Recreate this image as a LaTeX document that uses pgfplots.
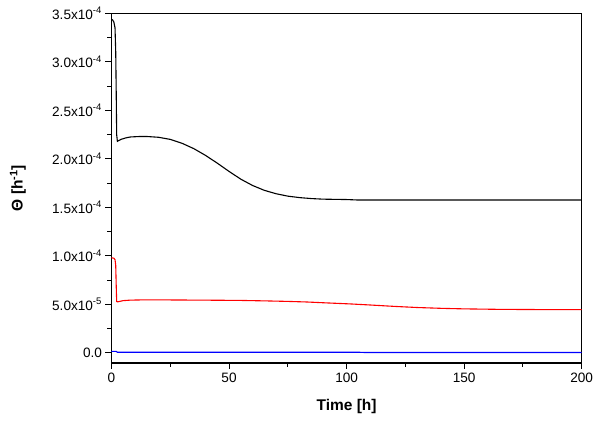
\documentclass[border=0pt]{standalone}
\usepackage{fontspec}
\setmainfont{Liberation Sans}
\usepackage{pgfplots}
\pgfplotsset{compat=1.18}
\begin{document}
\begin{tikzpicture}
\useasboundingbox (-111.5pt,-60pt) rectangle (488.5pt,363pt);
\begin{axis}[
  at={(0pt,0pt)}, anchor=south west,
  scale only axis,
  width=470.2pt, height=349.7pt,
  xmin=0, xmax=200, ymin=-1.05, ymax=35,
  axis line style={line width=1.2pt},
  xtick={0,50,100,150,200},
  minor xtick={25,75,125,175},
  ytick={0,5,10,15,20,25,30,35},
  minor ytick={2.5,7.5,12.5,17.5,22.5,27.5,32.5},
  yticklabels={0.0, 5.0x10\textsuperscript{-5}, 1.0x10\textsuperscript{-4}, 1.5x10\textsuperscript{-4}, 2.0x10\textsuperscript{-4}, 2.5x10\textsuperscript{-4}, 3.0x10\textsuperscript{-4}, 3.5x10\textsuperscript{-4}},
  tick align=outside,
  xtick pos=bottom, ytick pos=left,
  major tick length=6pt, minor tick length=4pt,
  every tick/.style={black, line width=1pt},
  /pgf/number format/assume math mode=true,
  tick label style={font=\fontsize{13.6}{16}\selectfont},
  xlabel={Time [h]},
  ylabel={Θ [h\textsuperscript{-1}]},
  label style={font=\fontsize{15.5}{18}\bfseries},
  xlabel style={at={(axis description cs:0.5,-0.125)}, anchor=center},
  ylabel style={at={(axis description cs:-0.199,0.5)}, anchor=center, rotate=0},
]
\addplot[black, line width=1.1pt] coordinates {
(0,34.4) (0.5,34.3) (1.0,34.1) (1.5,33.5) (1.8,31) (2.0,27) (2.2,22.5) (2.5,21.8)
(4,22.0) (6,22.15) (8,22.25) (12,22.3) (15,22.3) (20,22.22) (25,22.0) (30,21.6)
(35,21.05) (40,20.35) (45,19.55) (50,18.7) (55,17.9) (60,17.25) (65,16.75)
(70,16.4) (75,16.15) (80,16.0) (85,15.9) (90,15.84) (100,15.8) (105,15.75) (200,15.75)
};
\addplot[red, line width=1.1pt] coordinates {
(0,9.8) (1.0,9.75) (1.5,9.6) (1.8,9.0) (2.0,7.0) (2.2,5.3) (2.5,5.25) (5,5.38)
(8,5.43) (12,5.45) (25,5.45) (44.8,5.42) (55,5.4) (66,5.35) (75,5.3) (83,5.24)
(92,5.14) (101.5,5.04) (110,4.93) (120,4.79) (130,4.67) (141,4.58) (150,4.53)
(165,4.48) (180,4.46) (200,4.45)
};
\addplot[blue, line width=1.1pt] coordinates {
(0,0.15) (2,0.15) (2.5,0.06) (105,0.06) (108,0.03) (200,0.03)
};
\end{axis}
\end{tikzpicture}
\end{document}
